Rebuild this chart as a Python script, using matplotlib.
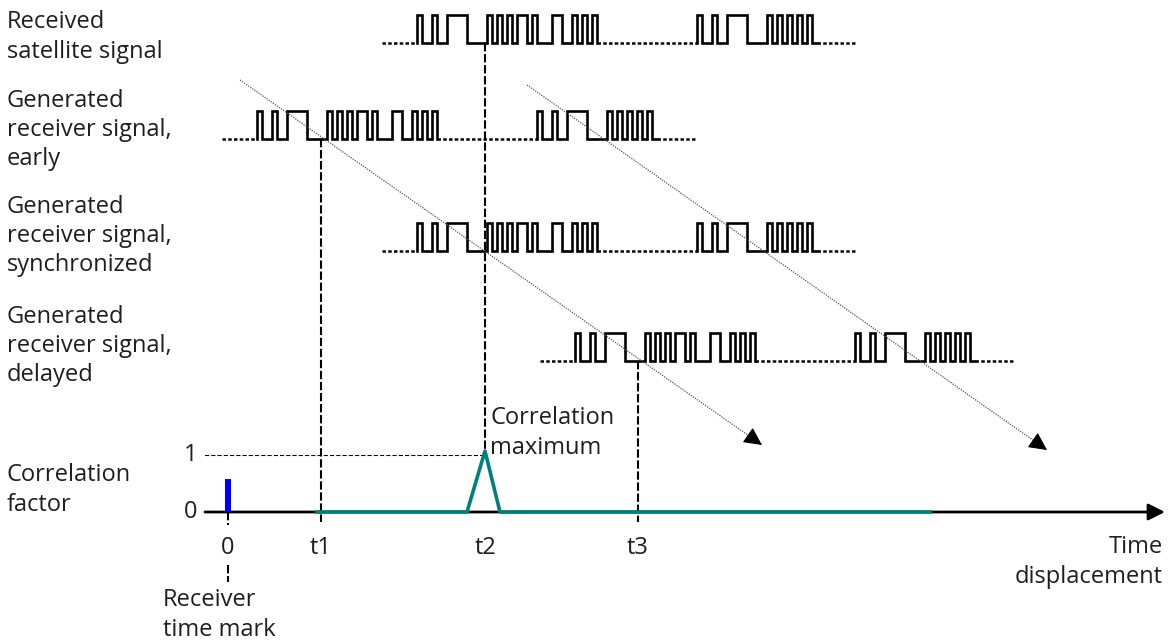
import numpy as np
import matplotlib.pyplot as plt

plt.rcParams['font.family'] = ['Open Sans', 'DejaVu Sans']

# code chips, one chip = one time unit (1 = high, 0 = low)
head = [1, 0, 0, 1, 0, 0, 1, 1, 1, 1, 0, 0, 0, 0]
dense = [1, 0, 1, 0, 1, 0, 1, 1, 0, 1, 0, 0, 0, 1, 1, 0, 0, 1, 0, 1, 0, 1]
tail = [1, 0, 1, 0, 1, 0, 1, 0, 1, 0]
block_a = head + dense
block_b = head + tail
lead_chips = 7
gap_chips = 20
trail_chips = 8

row_labels = ["Received\nsatellite signal",
              "Generated\nreceiver signal,\nearly",
              "Generated\nreceiver signal,\nsynchronized",
              "Generated\nreceiver signal,\ndelayed"]
row_starts = [37.8, 5.8, 37.8, 69.4]   # time where the code block begins

t_ticks = [0, 18.5, 51.4, 82.0]
t_labels = ["0", "t1", "t2", "t3"]

corr_x = [17.8, 47.8, 51.4, 54.4, 140.4]
corr_y = [0, 0, 1.07, 0, 0]
mark_height = 0.58

# layout (pixel rows)
row_base = [43, 139, 251, 361]
row_amp = 28
label_y = [37, 130, 236, 346]
fs = 17
ls = 1.28
txt = '#1e1e1e'

fig = plt.figure(figsize=(11.7, 6.42), dpi=100)
ax = fig.add_axes([0, 0, 1, 1])
ax.set_xlim(-45.6, 188.4)
ax.set_ylim(642, 0)
ax.axis('off')

axc = fig.add_axes([0, 1 - 512 / 642, 1, 57 / 642])
axc.set_xlim(-45.6, 188.4)
axc.set_ylim(0, 1)
axc.patch.set_visible(False)
for s in axc.spines.values():
    s.set_visible(False)
axc.set_yticks([])
axc.set_xticks(t_ticks, t_labels)
axc.tick_params(axis='x', length=0, pad=17, labelsize=fs, labelcolor=txt)


def draw_block(chips, x0, yb):
    levels = np.where(np.array(chips) == 1, yb - row_amp, yb)
    edges = x0 + np.arange(len(chips) + 1)
    xs = np.concatenate([[x0], np.repeat(edges, 2)[1:-1], [edges[-1]]])
    ys = np.concatenate([[yb], np.repeat(levels, 2), [yb]])
    ax.plot(xs, ys, color='black', lw=1.9, solid_joinstyle='miter')
    return edges[-1]


dot = dict(color='black', lw=1.8, linestyle=(0, (1.4, 0.9)))
for lab, x0, yb, ly in zip(row_labels, row_starts, row_base, label_y):
    ax.plot([x0 - lead_chips, x0], [yb, yb], **dot)
    end_a = draw_block(block_a, x0, yb)
    ax.plot([end_a, end_a + gap_chips], [yb, yb], **dot)
    end_b = draw_block(block_b, end_a + gap_chips, yb)
    ax.plot([end_b, end_b + trail_chips], [yb, yb], **dot)
    ax.text(-44.2, ly, lab, fontsize=fs, va='center', ha='left',
            color=txt, linespacing=ls)

# dashed marker lines
dash = dict(color='black', lw=1.5, linestyle=(0, (4, 1.3)))
y_axis0 = 512
apex = ax.transData.inverted().transform(
    axc.transData.transform((corr_x[2], corr_y[2])))
ax.plot([t_ticks[1]] * 2, [row_base[1], y_axis0 + 10], **dash)
ax.plot([t_ticks[2]] * 2, [row_base[0], apex[1]], **dash)
ax.plot([t_ticks[3]] * 2, [row_base[3], y_axis0 + 10], **dash)
ax.plot([t_ticks[0]] * 2, [y_axis0, y_axis0 + 13], **dash)
ax.plot([t_ticks[0]] * 2, [565, 582], **dash)

# diagonal guide arrows
for (xa, ya), (xb, yb) in [((2.4, 80), (106.8, 445)), ((59.8, 85), (163.8, 450))]:
    ax.plot([xa, xb], [ya, yb], color='#555555', lw=0.9, linestyle=(0, (1, 1)))
    ax.annotate('', xy=(xb, yb), xytext=(xb - (xb - xa) * 0.01, yb - (yb - ya) * 0.01),
                arrowprops=dict(arrowstyle='-|>', color='black', lw=0.8,
                                mutation_scale=28, shrinkA=0, shrinkB=0))

# correlation axis
axc.annotate('', xy=(187.4, 0), xytext=(-4.6, 0),
             arrowprops=dict(arrowstyle='-|>', color='black', lw=2,
                             mutation_scale=25, shrinkA=0, shrinkB=0), zorder=2)
axc.plot([-4.6, corr_x[2]], [1, 1], color='black', lw=1.5, linestyle=(0, (2, 1)))
axc.plot(corr_x, corr_y, color='#00807a', lw=2.6, zorder=4, clip_on=False)
axc.bar(0, mark_height, width=1.15, color='#0000ff', zorder=3)
axc.text(-6.2, 1, "1", fontsize=fs, ha='right', va='center', color=txt)
axc.text(-6.2, 0, "0", fontsize=fs, ha='right', va='center', color=txt)

ax.text(-44.2, 490, "Correlation\nfactor", fontsize=fs, va='center', color=txt,
        linespacing=ls)
ax.text(52.4, 433, "Correlation\nmaximum", fontsize=fs, va='center', color=txt,
        linespacing=ls)
ax.text(187.0, 562, "Time\ndisplacement", fontsize=fs, va='center', ha='right',
        multialignment='right', color=txt, linespacing=ls)
ax.text(-13.0, 615, "Receiver\ntime mark", fontsize=fs, va='center', color=txt,
        linespacing=ls)

fig.savefig('out.png', dpi=100)
